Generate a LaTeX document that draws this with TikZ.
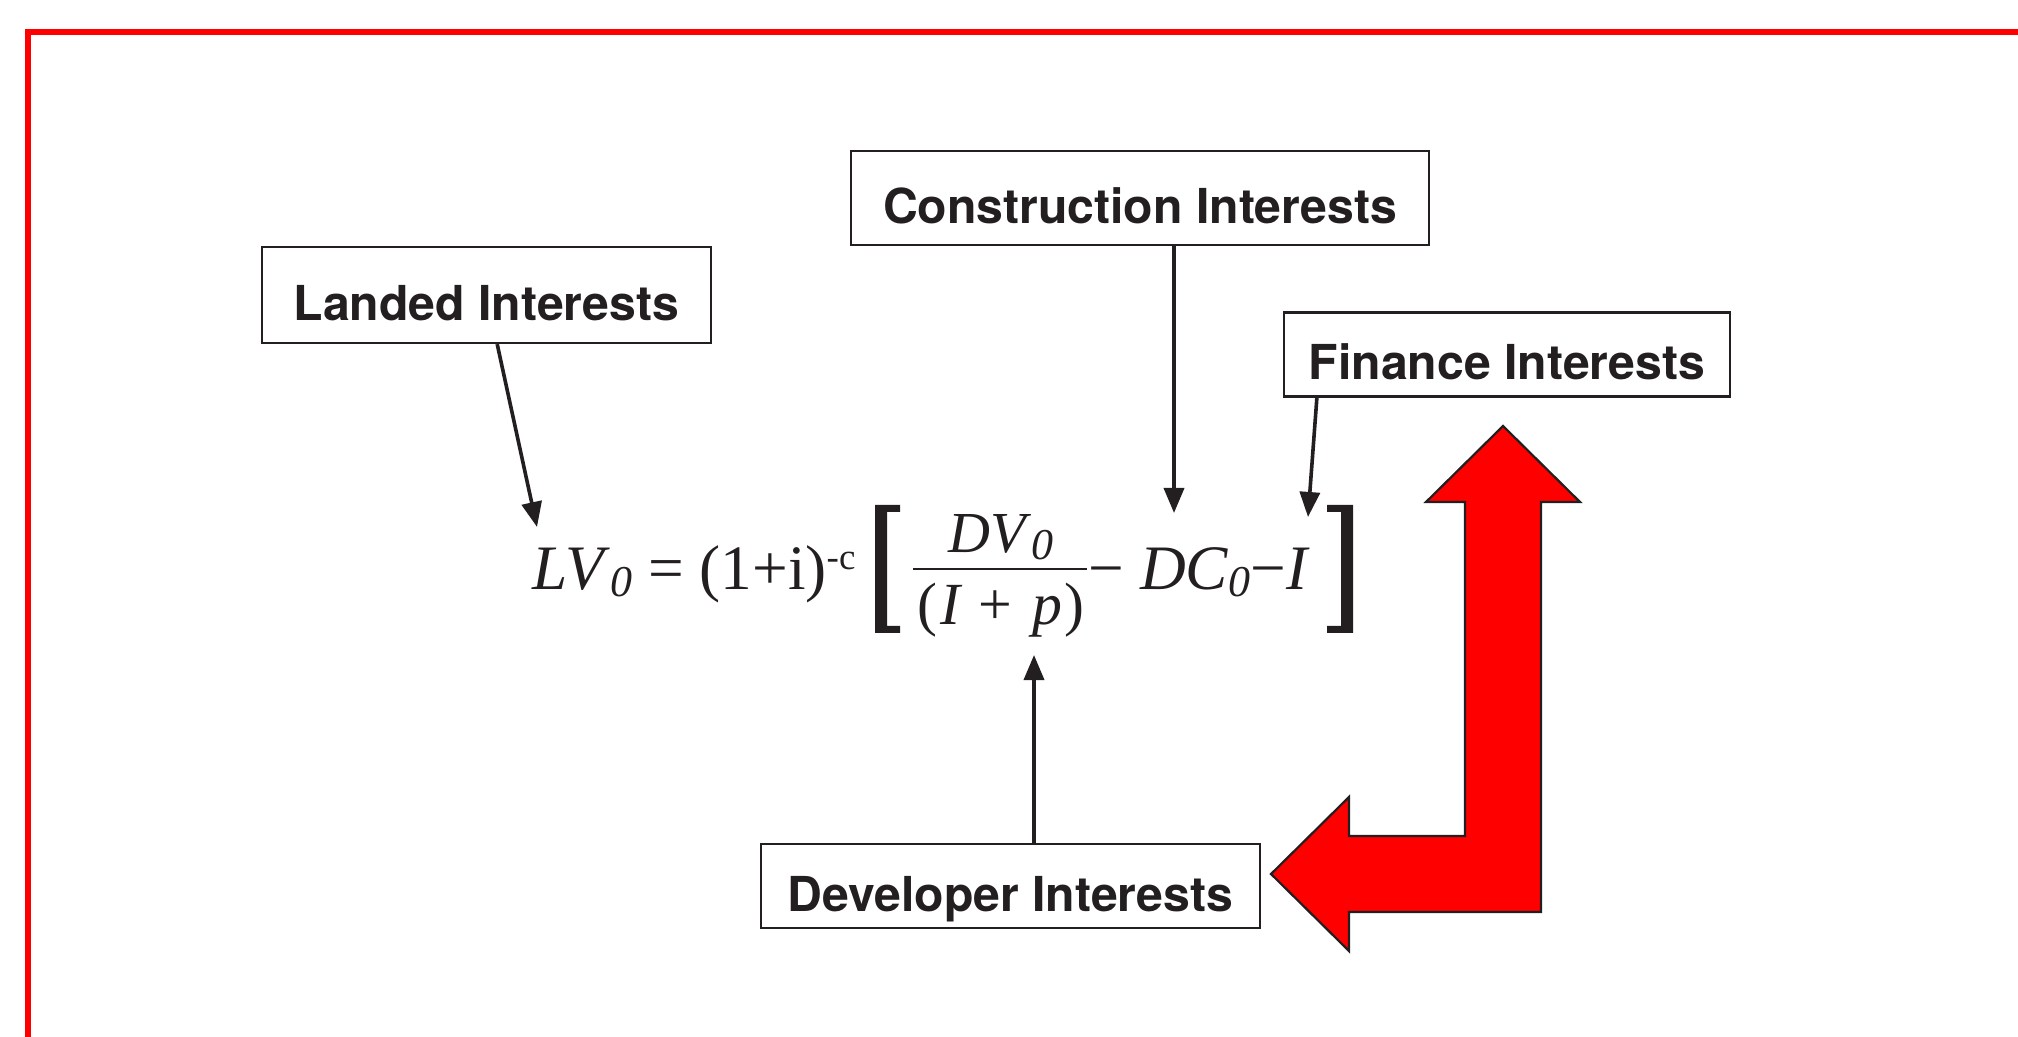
\documentclass[tikz,border=0pt]{standalone}
\usepackage{fontspec}
\setmainfont{Liberation Serif}
\newfontfamily\labelfont{TeX Gyre Heros}
\usetikzlibrary{arrows.meta,positioning,calc}
\definecolor{ink}{HTML}{231F20}
\definecolor{alarm}{HTML}{FF0000}
\newcommand{\zerosub}{\raisebox{-0.06cm}{\fontsize{12.5}{12.5}\selectfont\textit{0}}}
\newcommand{\negc}{\raisebox{0.2cm}{\fontsize{10.5}{10.5}\selectfont -c}}

\begin{document}
\begin{tikzpicture}[x=0.01cm, y=-0.01cm, line join=miter,
  interest/.style={draw=ink, line width=0.022cm, text=ink, inner sep=0.1cm, minimum height=0.84cm, text height=0.5cm, text depth=0cm, font=\labelfont\bfseries\fontsize{13.7}{16}\selectfont},
  eq/.style={inner sep=0pt, text=ink, font=\fontsize{18}{20}\selectfont},
  pointer/.style={draw=ink, line width=0.036cm, -{Triangle[length=0.25cm,width=0.2cm]}}]
\useasboundingbox (0,0) rectangle (2018,1037);
\draw[alarm, line width=0.06cm] (28,1060) -- (28,32) -- (2040,32);

\node[interest, minimum width=4.49cm, minimum height=0.96cm] (landed) at (486.5,295) {Landed Interests};
\node[interest, minimum width=5.78cm, minimum height=0.94cm] (constr) at (1140,198) {Construction Interests};
\node[interest, minimum width=4.46cm] (finance) at (1507,354.5) {Finance Interests};
\node[interest, minimum width=4.99cm] (developer) at (1010.5,886) {Developer Interests};

\node[eq, anchor=base west] (lhs) at (532,590) {\textit{LV}\zerosub\ = (1+i)\negc};
\node[eq, anchor=base, font=\fontsize{16.5}{18}\selectfont] (num) at (1001,553) {\textit{DV}\zerosub};
\node[eq, anchor=base, font=\fontsize{17}{18}\selectfont] (den) at (1001,625) {(\kern0.03cm\textit{I}\kern0.16cm+\kern0.2cm\textit{p}\kern0.02cm)};
\node[eq, anchor=base west] (rhs) at (1088,590) {−\ \textit{DC}\zerosub−\textit{I}};
\fill[ink] (875,505) -- (900,505) -- (900,512) -- (887,512) -- (887,626) -- (900,626) -- (900,633) -- (875,633) -- cycle;
\fill[ink] (1353,505) -- (1327,505) -- (1327,512) -- (1341,512) -- (1341,626) -- (1327,626) -- (1327,633) -- (1353,633) -- cycle;
\draw[ink, line width=0.022cm] (913,569) -- (1087,569);

\coordinate (landtip) at (537,527); \coordinate (contip) at (1174,513); \coordinate (fintip) at (1308,517); \coordinate (devtip) at (1034,655);
\draw[pointer] (landed) -- (landtip);
\draw[pointer] (constr.south -| contip) -- (contip);
\draw[pointer] ([xshift=-1.9cm]finance.south) -- (fintip);
\draw[pointer] (developer.north -| devtip) -- (devtip);

\draw[ink, line width=0.022cm, fill=alarm] (1503,426) -- (1580,502) -- (1541,502) -- (1541,912) -- (1349,912) -- (1349,951) -- (1271,874) -- (1349,797) -- (1349,836) -- (1465,836) -- (1465,502) -- (1426,502) -- cycle;
\end{tikzpicture}
\end{document}
